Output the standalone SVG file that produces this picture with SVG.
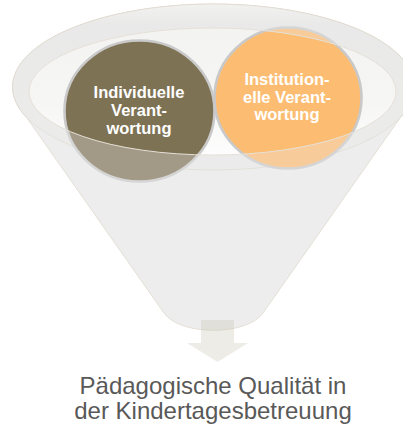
<svg xmlns="http://www.w3.org/2000/svg" width="403" height="428" viewBox="0 0 403 428">
  <defs>
    <linearGradient id="rimFill" x1="0" y1="0" x2="0" y2="1">
      <stop offset="0" stop-color="#f4f4f3"/>
      <stop offset="0.12" stop-color="#e8e8e7"/>
      <stop offset="1" stop-color="#ebebea"/>
    </linearGradient>
    <linearGradient id="bowlFill" x1="0" y1="0" x2="0" y2="1">
      <stop offset="0" stop-color="#f3f3f1"/>
      <stop offset="0.6" stop-color="#f6f6f5"/>
      <stop offset="1" stop-color="#fdfdfd"/>
    </linearGradient>
    <style>
      .funnel { fill: #eeeeee; stroke: #dcd5c8; stroke-width: 0.8; }
      .rim { fill: url(#rimFill); stroke: #dcd5c8; stroke-width: 0.8; }
      .bowl { fill: url(#bowlFill); }
      .veil { fill: #eeeeee; fill-opacity: 0.33; fill-rule: evenodd; stroke: none; }
      .lip { fill: none; stroke: #e6e1d7; stroke-width: 1; }
      .bubble { stroke: #c9c9c9; stroke-width: 2.6; }
      .label { font-family: "Liberation Sans", Arial, sans-serif; font-weight: bold; font-size: 16.5px; fill: #ffffff; text-anchor: middle; }
      .result { font-family: "Liberation Sans", Arial, sans-serif; font-size: 24px; fill: #595959; text-anchor: middle; }
      .out-arrow { fill: #c8c0b0; fill-opacity: 0.3; }
    </style>
  </defs>

  <!-- funnel body and rim, behind the bubbles -->
  <g id="funnel">
    <path class="funnel" d="M 27,118 A 201 83 0 1 1 400,118 L 263,313 C 247,336 180,336 164,313 Z"/>
    <ellipse class="rim" cx="213.5" cy="87" rx="201" ry="83"/>
    <ellipse class="bowl" cx="212.5" cy="91.5" rx="183.5" ry="63.5"/>
  </g>

  <g id="node-individuelle">
    <ellipse class="bubble" cx="139.5" cy="111" rx="75" ry="70.5" fill="#7e7254"/>
    <text class="label" x="139" y="98.3">Individuelle</text>
    <text class="label" x="139" y="116">Verant-</text>
    <text class="label" x="139" y="133.5">wortung</text>
  </g>

  <g id="node-institutionelle">
    <ellipse class="bubble" cx="288" cy="98" rx="73.5" ry="70.5" fill="#fcbd72"/>
    <text class="label" x="287" y="85">Institution-</text>
    <text class="label" x="287" y="102.6">elle Verant-</text>
    <text class="label" x="287" y="120.2">wortung</text>
  </g>

  <!-- translucent front wall of the funnel, with the bowl opening cut out -->
  <g id="funnel-front">
    <path class="veil" d="M 27,118 A 201 83 0 1 1 400,118 L 263,313 C 247,336 180,336 164,313 Z M 29,91.5 A 183.5 63.5 0 1 0 396,91.5 A 183.5 63.5 0 1 0 29,91.5 Z"/>
    <ellipse class="lip" cx="212.5" cy="91.5" rx="183.5" ry="63.5"/>
  </g>

  <g id="connectors">
    <path class="out-arrow" d="M 201,320 H 234 V 343 H 248 L 217.5,362 L 187,343 H 201 Z"/>
  </g>

  <g id="node-ergebnis">
    <text class="result" x="213" y="394">Pädagogische Qualität in</text>
    <text class="result" x="213" y="419">der Kindertagesbetreuung</text>
  </g>
</svg>
